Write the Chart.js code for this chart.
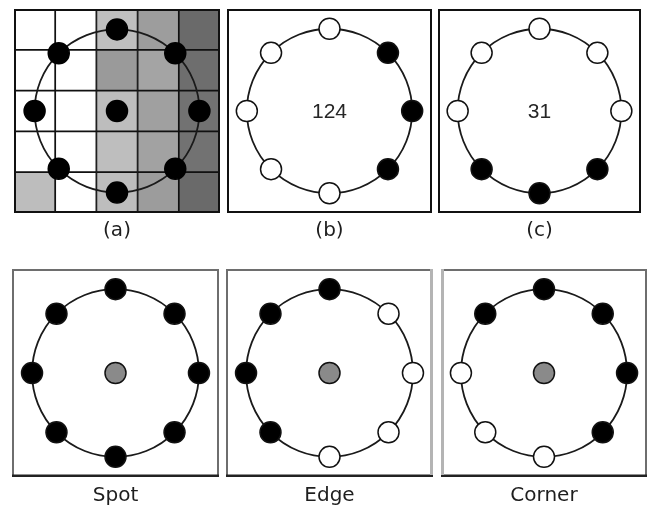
<!DOCTYPE html>
<html><head><meta charset="utf-8">
<script src="https://cdn.jsdelivr.net/npm/chart.js@4/dist/chart.umd.min.js"></script>
<style>
html,body{margin:0;padding:0;background:#fff;}
body{width:647px;height:508px;position:relative;overflow:hidden;}
.p{position:absolute;}
canvas{display:block;}
</style></head><body>
<div class="p" style="left:14px;top:9px"><canvas id="cA" width="206" height="234"></canvas></div>
<div class="p" style="left:227px;top:9px"><canvas id="cB" width="205" height="234"></canvas></div>
<div class="p" style="left:438px;top:9px"><canvas id="cC" width="203" height="234"></canvas></div>
<div class="p" style="left:12px;top:269px"><canvas id="cSpot" width="207" height="239"></canvas></div>
<div class="p" style="left:226px;top:269px"><canvas id="cEdge" width="207" height="239"></canvas></div>
<div class="p" style="left:441px;top:269px"><canvas id="cCorner" width="206" height="239"></canvas></div>
<script>
// ---- data ----
// neighbour angles (degrees, counter-clockwise from the right)
const angles = [0, 45, 90, 135, 180, 225, 270, 315];
// panel (a): 5x5 grey levels, rows top->bottom, columns left->right
const gridShades = [
  [255, 255, 191, 157, 106],
  [255, 255, 154, 164, 110],
  [255, 255, 189, 160, 114],
  [255, 255, 190, 162, 114],
  [189, 255, 189, 156, 106]
];
// neighbour states (1 = black, 0 = white), same order as angles
const bitsA = [1, 1, 1, 1, 1, 1, 1, 1];
const bitsB = [1, 1, 0, 0, 0, 0, 0, 1];
const bitsC = [0, 0, 0, 0, 0, 1, 1, 1];
const bitsSpot = [1, 1, 1, 1, 1, 1, 1, 1];
const bitsEdge = [0, 0, 1, 1, 1, 1, 0, 0];
const bitsCorner = [1, 1, 1, 1, 0, 0, 0, 1];
const codes = ['124', '31'];
const panelLabels = ['(a)', '(b)', '(c)', 'Spot', 'Edge', 'Corner'];

// ---- plugins ----
const ringPlugin = {
  id: 'ring',
  beforeDatasetDraw(chart, args, opts) {
    if (args.index !== 0 || !opts.r) return;
    const xs = chart.scales.x, ys = chart.scales.y, ctx = chart.ctx;
    const px = xs.getPixelForValue(opts.cx), py = ys.getPixelForValue(opts.cy);
    const rx = Math.abs(xs.getPixelForValue(opts.cx + opts.r) - px);
    const ry = Math.abs(ys.getPixelForValue(opts.cy + opts.r) - py);
    ctx.save();
    ctx.beginPath();
    ctx.ellipse(px, py, rx, ry, 0, 0, Math.PI * 2);
    ctx.strokeStyle = '#1a1a1a';
    ctx.lineWidth = 1.8;
    ctx.stroke();
    ctx.restore();
  },
  afterDatasetsDraw(chart, args, opts) {
    const ctx = chart.ctx, a = chart.chartArea;
    if (opts.code) {
      ctx.save();
      ctx.font = '21px "Liberation Sans", Arial, sans-serif';
      ctx.fillStyle = '#262626';
      ctx.textAlign = 'center';
      ctx.textBaseline = 'middle';
      ctx.fillText(opts.code, chart.scales.x.getPixelForValue(opts.cx), chart.scales.y.getPixelForValue(opts.cy) + 1);
      ctx.restore();
    }
    ctx.save();
    ctx.lineWidth = 2;
    ctx.strokeStyle = opts.frame || '#111';
    ctx.strokeRect(a.left + 1, a.top + 1, a.right - a.left - 2, a.bottom - a.top - 2);
    if (opts.bottomColor) {
      ctx.beginPath();
      ctx.moveTo(a.left, a.bottom - 1.25);
      ctx.lineTo(a.right, a.bottom - 1.25);
      ctx.lineWidth = 2.5;
      ctx.strokeStyle = opts.bottomColor;
      ctx.stroke();
    }
    if (opts.stripRight) {
      ctx.fillStyle = '#b4b4b4';
      ctx.fillRect(a.right - 3, a.top, 3, a.bottom - a.top - 2);
    }
    if (opts.stripLeft) {
      ctx.fillStyle = '#b4b4b4';
      ctx.fillRect(a.left, a.top, 3, a.bottom - a.top - 2);
    }
    ctx.restore();
  }
};

function ringPoints(bits, cx, cy, r) {
  return angles.map(d => ({ x: cx + r * Math.cos(d * Math.PI / 180), y: cy + r * Math.sin(d * Math.PI / 180) }));
}
function bitColors(bits) { return bits.map(b => b ? '#000' : '#fff'); }

function baseOptions(label, padTop, xr, yr, ring) {
  return {
    responsive: false,
    animation: false,
    devicePixelRatio: 1,
    events: [],
    layout: { padding: 0, autoPadding: false },
    scales: {
      x: { type: 'linear', display: false, min: xr[0], max: xr[1], offset: false, ticks: { count: 6 } },
      y: { type: 'linear', display: false, min: yr[0], max: yr[1] }
    },
    plugins: {
      legend: { display: false },
      tooltip: { enabled: false },
      title: {
        display: true, position: 'bottom', text: label,
        color: '#1e1e1e',
        font: { family: '"DejaVu Sans", sans-serif', size: 20, weight: 'normal', lineHeight: 1.2 },
        padding: { top: padTop, bottom: 0 }
      },
      ring: ring
    }
  };
}

const R = 1.24;

// panel (a): grid + 9 dots
(function () {
  const cells = [];
  const colors = [];
  gridShades.forEach((row, r) => row.forEach((g, c) => {
    cells.push({ x: c, y: [4 - r, 5 - r] });
    colors.push(`rgb(${g},${g},${g})`);
  }));
  const pts = ringPoints(bitsA, 2, 2.5, 2).concat([{ x: 2, y: 2.5 }]);
  new Chart(document.getElementById('cA'), {
    type: 'scatter',
    data: {
      datasets: [
        { type: 'scatter', data: pts, pointRadius: 10.5, pointBorderWidth: 1.5,
          pointBackgroundColor: bitColors(bitsA).concat(['#000']), pointBorderColor: '#000' },
        { type: 'bar', data: cells, backgroundColor: colors, borderColor: '#111', borderWidth: 1.2,
          borderSkipped: false, barPercentage: 1, categoryPercentage: 1 }
      ]
    },
    options: baseOptions(panelLabels[0], 6, [-0.5, 4.5], [0, 5], { cx: 2, cy: 2.5, r: 2, frame: '#111' }),
    plugins: [ringPlugin]
  });
})();

function ringPanel(id, bits, label, padTop, ringOpts, center) {
  const pts = ringPoints(bits, 0, 0, 1);
  const fills = bitColors(bits);
  if (center) { pts.push({ x: 0, y: 0 }); fills.push('#8a8a8a'); }
  new Chart(document.getElementById(id), {
    type: 'scatter',
    data: {
      datasets: [
        { data: pts, pointRadius: 10.5, pointBorderWidth: 1.5, pointBackgroundColor: fills, pointBorderColor: '#111' }
      ]
    },
    options: baseOptions(label, padTop, [-R, R], [-R, R], Object.assign({ cx: 0, cy: 0, r: 1 }, ringOpts)),
    plugins: [ringPlugin]
  });
}

ringPanel('cB', bitsB, panelLabels[1], 6, { code: codes[0], frame: '#111' }, false);
ringPanel('cC', bitsC, panelLabels[2], 6, { code: codes[1], frame: '#111' }, false);
ringPanel('cSpot', bitsSpot, panelLabels[3], 7, { frame: '#6e6e6e', bottomColor: '#222' }, true);
ringPanel('cEdge', bitsEdge, panelLabels[4], 7, { frame: '#6e6e6e', bottomColor: '#222', stripRight: true }, true);
ringPanel('cCorner', bitsCorner, panelLabels[5], 7, { frame: '#6e6e6e', bottomColor: '#222', stripLeft: true }, true);
</script>
</body></html>
